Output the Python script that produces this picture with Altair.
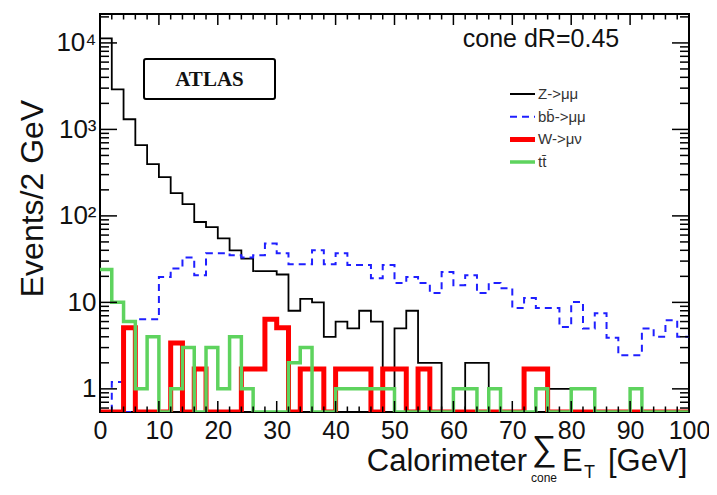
import altair as alt
import pandas as pd

# ---- data (2 GeV bins from 0 to 100) ----
edges = list(range(0, 101, 2))
z_mumu = [11300, 2900, 1310, 657, 396, 280, 183, 137, 85, 74,
          55, 40, 32, 23, 23, 21, 8, 11, 10, 4,
          6, 5, 8, 6, 0, 5, 8, 2, 2, 0,
          0, 2, 2, 0, 0, 0, 0, 0, 1, 1,
          0, 0, 0, 0, 0, 0, 0, 0, 0, 0]
bb_mumu = [0, 1.2, 0, 6.4, 6.4, 19.6, 24.7, 33, 20.6, 37,
           37, 35, 33, 35, 48, 37, 27.6, 27.6, 40, 27.6,
           37, 27, 27, 19, 27, 16.7, 19.6, 16.7, 12.8, 22.4,
           15.8, 20.6, 12.8, 16.7, 14.6, 8.6, 11.2, 8.6, 8.6, 5.2,
           10.1, 5, 7.5, 3.9, 2.45, 2.45, 5, 4, 6.2, 4]
w_munu = [0, 0, 5.1, 0, 0, 0, 3.4, 0, 1.7, 0,
          0, 0, 1.7, 1.7, 6.4, 5.1, 0, 1.7, 1.7, 0,
          1.7, 1.7, 1.7, 0, 1.7, 1.7, 0, 1.7, 0, 0,
          0, 0, 0, 0, 0, 0, 1.7, 1.7, 0, 0,
          0, 0, 0, 0, 0, 0, 0, 0, 0, 0]
tt = [24, 10, 6, 1, 4, 0, 1, 3, 0, 3,
      1, 4, 1, 0, 0, 0, 2, 3, 0, 0,
      1, 1, 1, 1, 1, 0, 0, 0, 0, 0,
      1, 1, 0, 1, 0, 0, 0, 1, 0, 0,
      1, 1, 0, 0, 0, 1, 0, 0, 0, 0]

names = ["Z->μμ", "bb̄->μμ", "W->μν", "tt̄"]
series = [z_mumu, bb_mumu, w_munu, tt]
colors = ["#000000", "#1f1fff", "#ff0000", "#5ed35e"]
dashes = [[1, 0], [7, 5], [1, 0], [1, 0]]
widths = [1.8, 2.0, 5.0, 3.5]

x_tick_vals = list(range(0, 101, 10))
x_tick_labels = [str(v) for v in x_tick_vals]
x_minor = [v for v in range(0, 101, 2) if v % 10]
y_tick_vals = [1, 10, 100, 1000, 10000]
y_tick_labels = ["1", "10", "10²", "10³", "10⁴"]
y_minor = [0.6, 0.7, 0.8, 0.9] + [k * 10 ** d for d in range(0, 5) for k in range(2, 10) if k * 10 ** d < 21600]

W, H = 589, 398
FONT = "Liberation Sans"

rows = []
for name, vals in zip(names, series):
    for i, e in enumerate(edges):
        rows.append({"series": name, "x": e, "v": vals[min(i, len(vals) - 1)]})
df = pd.DataFrame(rows)

def expr_for(vals, labels):
    s = "''"
    for v, l in zip(reversed(vals), reversed(labels)):
        s = f"(abs(datum.value - {v}) < 1e-6 ? '{l}' : {s})"
    return s

xscale = alt.Scale(domain=[0, 100], nice=False, zero=False)
yscale = alt.Scale(type="log", domain=[0.54, 21600], nice=False, clamp=True)
xaxis = alt.Axis(values=x_tick_vals, labelExpr=expr_for(x_tick_vals, x_tick_labels),
                 ticks=False, domain=False, grid=False, labelFontSize=25, labelFont=FONT,
                 labelPadding=6, labelOverlap=False, labelFlush=False, labelColor="#111", title=None)
yaxis = alt.Axis(values=y_tick_vals, labelExpr=expr_for(y_tick_vals, y_tick_labels),
                 ticks=False, domain=False, grid=False, labelFontSize=26, labelFont=FONT,
                 labelPadding=4, labelOverlap=False, labelFlush=False, labelColor="#111",
                 title="Events/2 GeV", titleFontSize=32, titleFont=FONT, titleFontWeight="normal",
                 titleColor="#111", titleX=-68, titleY=184, titleAngle=-90, titleAlign="center",
                 titleBaseline="middle")

# ---- histograms, one layer per process (later layers drawn on top) ----
hist_layers = []
for name, col, dash, wid in zip(names, colors, dashes, widths):
    hist_layers.append(
        alt.Chart(df).transform_filter(alt.datum.series == name).transform_calculate(
            vv="datum.v > 0 ? datum.v : 0.01"
        ).mark_line(interpolate="step-after", clip=True, strokeJoin="miter", strokeCap="butt",
                    color=col, strokeDash=dash, strokeWidth=wid).encode(
            x=alt.X("x:Q", scale=xscale, axis=xaxis),
            y=alt.Y("vv:Q", scale=yscale, axis=yaxis),
        )
    )

# ---- legend (drawn by hand so each line keeps its own width and dash) ----
LEG_X, LEG_Y0, LEG_DY = 410, 80, 22.7
legend_layers = []
for i, (name, col, dash, wid) in enumerate(zip(names, colors, dashes, widths)):
    d = pd.DataFrame({"t": [name]})
    yy = LEG_Y0 + i * LEG_DY
    legend_layers.append(alt.Chart(d).mark_rule(color=col, strokeDash=dash, strokeWidth=wid,
                                                strokeCap="butt").encode(
        x=alt.value(LEG_X), x2=alt.value(LEG_X + 25), y=alt.value(yy)))
    legend_layers.append(alt.Chart(d).mark_text(font=FONT, fontSize=15, align="left",
                                                baseline="middle", color="#333333").encode(
        x=alt.value(LEG_X + 28), y=alt.value(yy), text="t:N"))

# ---- inward ticks on all four sides ----
def xticks(vals, length):
    d = pd.DataFrame({"x": vals})
    enc_x = alt.X("x:Q", scale=xscale, axis=xaxis)
    bottom = alt.Chart(d).mark_rule(color="black", strokeWidth=1.5).encode(
        x=enc_x, y=alt.value(H), y2=alt.value(H - length))
    top = alt.Chart(d).mark_rule(color="black", strokeWidth=1.5).encode(
        x=enc_x, y=alt.value(0), y2=alt.value(length))
    return [bottom, top]

def yticks(vals, length):
    d = pd.DataFrame({"vv": vals})
    enc_y = alt.Y("vv:Q", scale=yscale, axis=yaxis)
    left = alt.Chart(d).mark_rule(color="black", strokeWidth=1.5).encode(
        y=enc_y, x=alt.value(0), x2=alt.value(length))
    right = alt.Chart(d).mark_rule(color="black", strokeWidth=1.5).encode(
        y=enc_y, x=alt.value(W), x2=alt.value(W - length))
    return [left, right]

tick_layers = xticks(x_tick_vals, 11) + xticks(x_minor, 5.5) + yticks(y_tick_vals, 17) + yticks(y_minor, 9)

one = pd.DataFrame({"t": ["ATLAS"]})
atlas_box = alt.Chart(one).mark_rect(fill="white", stroke="black", strokeWidth=2, cornerRadius=2).encode(
    x=alt.value(44), x2=alt.value(175), y=alt.value(45), y2=alt.value(85))
atlas_txt = alt.Chart(one).mark_text(font="Liberation Serif", fontWeight="bold", fontSize=21,
                                     align="center", baseline="middle", color="#111").encode(
    x=alt.value(109.5), y=alt.value(66), text="t:N")

def label(txt, x, y, size, align="left", font=FONT, color="#111"):
    return alt.Chart(pd.DataFrame({"t": [txt]})).mark_text(
        font=font, fontSize=size, align=align, baseline="alphabetic", color=color).encode(
        x=alt.value(x), y=alt.value(y), text="t:N")

cone_txt = label("cone dR=0.45", 441, 33, 25, align="center")
xt1 = label("Calorimeter", 427, 457, 31, align="right")
xt2 = label("∑", 444, 446, 35, align="center")
xt3 = label("E", 462, 457, 31)
xt4 = label("T", 484, 464, 18)
xt5 = label("[GeV]", 508, 457, 31)
xt6 = label("cone", 444, 468, 12, align="center")

chart = alt.layer(*hist_layers, *tick_layers, atlas_box, atlas_txt, cone_txt, *legend_layers,
                  xt1, xt2, xt3, xt4, xt5, xt6).properties(
    width=W, height=H, autosize=alt.AutoSizeParams(type="none"),
    padding={"left": 92, "top": 6, "right": 20, "bottom": 73},
).configure_view(stroke="black", strokeWidth=2)

chart.save("out.html", embed_options={"renderer": "svg", "actions": False})
